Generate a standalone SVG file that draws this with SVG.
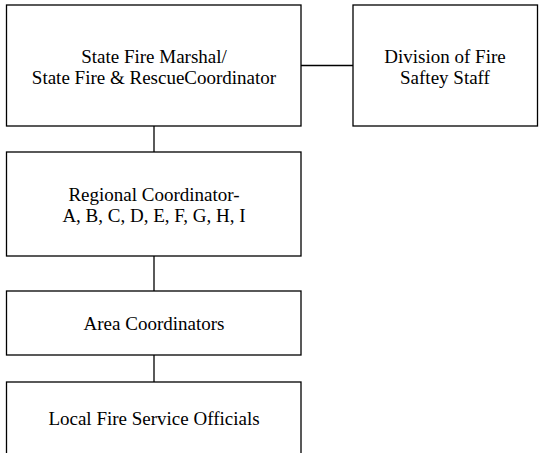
<svg xmlns="http://www.w3.org/2000/svg" width="539" height="453" viewBox="0 0 539 453">
  <style>
    .box { fill: #ffffff; stroke: #000000; stroke-width: 1.3; }
    .lbl { font-family: 'Liberation Serif', 'Times New Roman', serif; font-size: 19px; fill: #000000; text-anchor: middle; }
    .conn line { stroke: #000000; stroke-width: 1.3; }
  </style>
  <rect width="539" height="453" fill="#ffffff"/>
  <g class="conn" id="connectors">
    <line x1="301" y1="65.5" x2="353" y2="65.5"/>
    <line x1="154" y1="126" x2="154" y2="152"/>
    <line x1="154" y1="256" x2="154" y2="291"/>
    <line x1="154" y1="355" x2="154" y2="382"/>
  </g>
  <g id="state-fire-marshal">
    <rect class="box" x="6.5" y="5" width="294.5" height="121"/>
    <text class="lbl" x="154" y="62.5">State Fire Marshal/</text>
    <text class="lbl" x="154" y="83.5">State Fire &amp; RescueCoordinator</text>
  </g>
  <g id="division-staff">
    <rect class="box" x="353" y="5" width="184.5" height="121"/>
    <text class="lbl" x="445" y="62.5">Division of Fire</text>
    <text class="lbl" x="445" y="84">Saftey Staff</text>
  </g>
  <g id="regional-coordinator">
    <rect class="box" x="6.5" y="152" width="294.5" height="104"/>
    <text class="lbl" x="154" y="200.5">Regional Coordinator-</text>
    <text class="lbl" x="154" y="221.5">A, B, C, D, E, F, G, H, I</text>
  </g>
  <g id="area-coordinators">
    <rect class="box" x="6.5" y="291" width="294.5" height="64"/>
    <text class="lbl" x="154" y="330">Area Coordinators</text>
  </g>
  <g id="local-officials">
    <rect class="box" x="6.5" y="382" width="294.5" height="80"/>
    <text class="lbl" x="154" y="425">Local Fire Service Officials</text>
  </g>
</svg>
